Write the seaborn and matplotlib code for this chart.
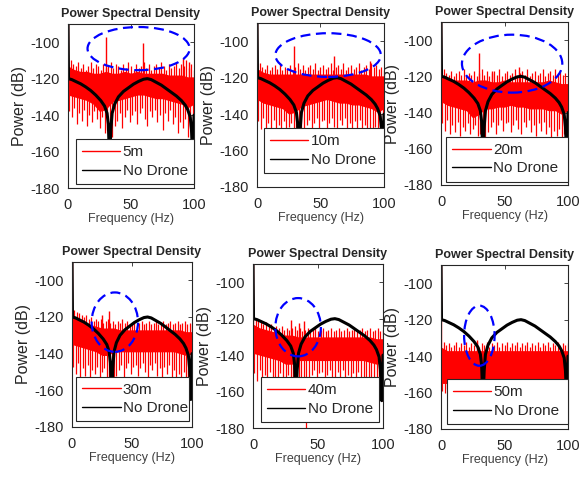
import numpy as np
import matplotlib
matplotlib.use("Agg")
import matplotlib.pyplot as plt
from matplotlib.patches import Ellipse
from matplotlib.lines import Line2D
import seaborn as sns

# -----------------------------
# DATA
# -----------------------------
labels = ["5m", "10m", "20m", "30m", "40m", "50m"]

# No Drone PSD (same in every panel)
nd_freq = [0, 0.4, 3, 6, 10, 14, 18, 22, 26, 29, 31, 32, 33, 34, 35, 37, 40, 44, 48, 52,
           56, 60, 63, 66, 70, 74, 78, 82, 86, 90, 93, 95, 97, 98, 99, 100]
nd_db = [-88, -120, -120.5, -121.5, -122.8, -124.5, -126.5, -129, -132, -135, -139, -145,
         -165, -148, -139, -134, -130, -127, -125, -123, -121.5, -120.3, -120, -120.5,
         -122, -123.5, -125.5, -127.5, -129.5, -132, -134.5, -137, -141, -148, -165, -140]

# drone PSD: dense band (upper / lower edge every 5 Hz)
env_freq = [0, 5, 10, 15, 20, 25, 30, 35, 40, 45, 50, 55, 60, 65, 70, 75, 80, 85, 90, 95, 100]
band_up = [
    [-113, -115, -116, -116, -117, -117, -116, -117, -117, -116, -117, -116, -117, -117, -117, -117, -118, -118, -118, -119, -119],
    [-115, -117, -118, -118, -118, -118, -118, -118, -118, -118, -118, -118, -118, -118, -118, -118, -118, -118, -119, -119, -119],
    [-119, -121, -122, -122, -122, -123, -122, -122, -123, -123, -122, -123, -123, -123, -123, -123, -123, -122, -123, -124, -124],
    [-119, -121, -123, -124, -125, -126, -126, -126, -127, -127, -127, -127, -127, -127, -127, -127, -127, -127, -127, -128, -128],
    [-123, -125, -126, -127, -128, -129, -129, -130, -130, -130, -130, -130, -130, -130, -130, -130, -130, -130, -130, -131, -131],
    [-135, -137, -137, -137, -137, -137, -137, -137, -137, -137, -137, -137, -137, -137, -137, -137, -137, -137, -137, -137, -137],
]
band_lo = [
    [-129, -130, -131, -132, -134, -138, -137, -133, -132, -131, -130, -129, -129, -130, -131, -131, -132, -133, -134, -136, -134],
    [-132, -134, -135, -136, -137, -140, -139, -136, -135, -134, -133, -132, -133, -134, -134, -135, -135, -136, -137, -139, -137],
    [-134, -136, -137, -138, -139, -143, -141, -138, -138, -137, -137, -136, -137, -137, -138, -138, -138, -139, -139, -141, -139],
    [-135, -136, -137, -138, -139, -141, -141, -139, -139, -139, -139, -139, -139, -139, -139, -139, -139, -139, -140, -141, -140],
    [-139, -140, -141, -142, -143, -145, -145, -143, -143, -143, -143, -143, -143, -143, -143, -143, -143, -143, -144, -145, -144],
    [-155, -155, -156, -157, -157, -158, -158, -157, -157, -157, -157, -157, -157, -157, -157, -157, -157, -157, -158, -160, -158],
]

# tall upward spikes (freq, top dB)
spike_f = [
    [0, 29.8, 59.5, 91, 96],
    [0, 29.4, 60.6, 89],
    [0, 30.2, 61.4, 40],
    [0, 30.8, 25],
    [0, 29.2, 35, 39.5],
    [0, 28],
]
spike_db = [
    [-85, -97, -100.5, -108.8, -110.7],
    [-85, -102.5, -108, -111],
    [-85, -107, -114.7, -117],
    [-85, -116.6, -119],
    [-85, -120.6, -122.5, -121.5],
    [-85, -131],
]

# small spikes on top of the band, every 2 Hz (2 .. 100)
fringe_f = list(range(2, 101, 2))
fringe_db = [
    [-110, -112, -113, -111, -114, -112, -115, -113, -111, -114,
     -112, -113, -115, -112, -114, -113, -111, -114, -112, -113,
     -115, -112, -114, -111, -113, -115, -112, -114, -113, -111,
     -114, -112, -115, -113, -112, -114, -111, -113, -115, -112,
     -114, -113, -111, -114, -112, -113, -110, -114, -112, -115],
    [-112, -114, -115, -113, -116, -114, -113, -115, -112, -116,
     -114, -115, -113, -116, -114, -112, -115, -113, -116, -114,
     -113, -115, -112, -116, -114, -113, -115, -114, -112, -116,
     -114, -113, -115, -112, -116, -114, -113, -115, -114, -112,
     -116, -114, -113, -115, -112, -114, -113, -115, -114, -116],
    [-116, -118, -119, -117, -120, -118, -117, -119, -116, -120,
     -118, -119, -117, -120, -118, -116, -119, -117, -120, -118,
     -117, -119, -116, -120, -118, -117, -119, -118, -116, -120,
     -118, -117, -119, -116, -120, -118, -117, -119, -118, -116,
     -120, -118, -117, -119, -116, -118, -117, -119, -118, -120],
    [-116, -117, -118, -119, -120, -119, -121, -120, -122, -121,
     -122, -121, -123, -122, -121, -123, -122, -124, -122, -123,
     -121, -123, -122, -124, -123, -122, -124, -123, -122, -124,
     -123, -122, -124, -123, -122, -124, -123, -122, -124, -123,
     -122, -124, -123, -122, -124, -123, -122, -124, -123, -124],
    [-120, -121, -122, -123, -122, -124, -123, -125, -124, -125,
     -124, -126, -125, -126, -125, -124, -126, -125, -127, -126,
     -125, -127, -126, -125, -127, -126, -125, -127, -126, -125,
     -127, -126, -125, -127, -126, -125, -127, -126, -125, -127,
     -126, -125, -127, -126, -125, -127, -126, -125, -127, -126],
    [-132, -134, -133, -135, -134, -132, -135, -133, -134, -132,
     -135, -133, -134, -132, -135, -133, -134, -132, -135, -133,
     -134, -132, -135, -133, -134, -132, -135, -133, -134, -132,
     -135, -133, -134, -132, -135, -133, -134, -132, -135, -133,
     -134, -132, -135, -133, -134, -132, -135, -133, -134, -133],
]

# downward dips, every 2 Hz (1 .. 99)
dip_f = list(range(1, 100, 2))
dip_db = [
    [-138, -141, -136, -145, -139, -143, -137, -146, -140, -144,
     -138, -142, -147, -141, -150, -148, -160, -152, -146, -143,
     -139, -147, -141, -137, -144, -140, -138, -145, -139, -136,
     -142, -146, -138, -141, -137, -144, -140, -148, -139, -143,
     -137, -145, -141, -150, -144, -147, -142, -152, -146, -150],
    [-144, -148, -142, -150, -145, -149, -143, -151, -146, -148,
     -144, -150, -147, -145, -152, -150, -160, -153, -149, -146,
     -143, -150, -145, -142, -148, -144, -143, -149, -145, -142,
     -147, -150, -143, -146, -142, -149, -145, -151, -144, -148,
     -143, -150, -146, -152, -148, -151, -147, -155, -150, -156],
    [-146, -150, -144, -152, -147, -151, -145, -153, -148, -150,
     -146, -152, -149, -147, -153, -152, -160, -154, -151, -148,
     -145, -152, -147, -144, -150, -146, -145, -151, -147, -144,
     -149, -152, -145, -148, -144, -151, -147, -153, -146, -150,
     -145, -152, -148, -154, -150, -153, -149, -156, -152, -158],
    [-147, -151, -145, -153, -148, -152, -146, -154, -149, -151,
     -147, -153, -150, -148, -154, -153, -158, -155, -152, -149,
     -146, -153, -148, -145, -151, -147, -146, -152, -148, -145,
     -150, -153, -146, -149, -145, -152, -148, -154, -147, -151,
     -146, -153, -149, -155, -151, -154, -150, -157, -153, -158],
    [-150, -154, -148, -156, -151, -155, -149, -157, -152, -154,
     -150, -156, -153, -151, -157, -156, -162, -158, -155, -152,
     -182, -156, -151, -148, -154, -150, -149, -155, -151, -148,
     -153, -156, -149, -152, -148, -155, -151, -157, -150, -154,
     -149, -156, -152, -158, -154, -157, -153, -162, -158, -165],
    [-159, -160, -158, -161, -159, -160, -158, -161, -159, -160,
     -158, -161, -159, -160, -158, -161, -163, -160, -159, -158,
     -160, -159, -161, -158, -160, -159, -161, -158, -160, -159,
     -161, -158, -160, -159, -161, -158, -160, -159, -161, -158,
     -160, -159, -161, -158, -160, -159, -161, -160, -165, -162],
]

# blue dashed ellipses (centre, width, height in data units)
ell_cx = [56, 56, 56, 35.7, 34.7, 30.2]
ell_cy = [-103.5, -107.6, -113, -122.8, -124.7, -128.8]
ell_w = [81, 83, 79, 38.6, 35, 24]
ell_h = [23.7, 24, 32, 32.4, 32, 33]

# -----------------------------
# STYLE
# -----------------------------
sns.set_style("white")
plt.rcParams['font.family'] = ['Liberation Sans', 'DejaVu Sans']
plt.rcParams['axes.unicode_minus'] = False
plt.rcParams['axes.edgecolor'] = '#262626'
plt.rcParams['axes.linewidth'] = 0.8

fig = plt.figure(figsize=(5.88, 4.78), dpi=100)
W, H = 588, 478

# axes boxes in pixels (left, top, right, bottom)
boxes = [(68, 24, 194, 188), (257, 23, 384, 187), (441, 22, 568, 185),
         (72, 262, 192, 427), (253, 264, 383, 428), (441, 265, 568, 429)]
# legend box in axes fraction (x0, y_top, width)
leg_box = [(0.063, 0.297, 0.937), (0.055, 0.358, 0.945), (0.042, 0.296, 0.958),
           (0.036, 0.305, 0.939), (0.062, 0.309, 0.908), (0.047, 0.303, 0.953)]

for i in range(6):
    l, t, r, b = boxes[i]
    ax = fig.add_axes([l / W, 1 - b / H, (r - l) / W, (b - t) / H])

    up = np.array(band_up[i])
    lo = np.array(band_lo[i])
    mid = (up + lo) / 2

    # drone PSD
    ax.fill_between(env_freq, lo, up, color='red', lw=0)
    ax.vlines(fringe_f, np.interp(fringe_f, env_freq, mid), fringe_db[i], color='red', lw=0.9)
    ax.vlines(dip_f, dip_db[i], np.interp(dip_f, env_freq, mid), color='red', lw=0.9)
    ax.vlines(spike_f[i], np.interp(spike_f[i], env_freq, mid), spike_db[i], color='red', lw=1.0)

    # no drone PSD
    sns.lineplot(x=nd_freq, y=nd_db, ax=ax, color='black', lw=2.2, sort=False,
                 legend=False, estimator=None)

    ax.add_patch(Ellipse((ell_cx[i], ell_cy[i]), ell_w[i], ell_h[i], fill=False,
                         edgecolor='#0000ff', lw=1.6, linestyle=(0, (4.5, 2.5)),
                         zorder=4))

    ax.set_xlim(0, 100)
    ax.set_ylim(-180, -90)
    ax.set_xticks([0, 50, 100])
    ax.set_yticks([-180, -160, -140, -120, -100])
    ax.tick_params(direction='in', length=3, width=0.6, top=True, right=True,
                   labelsize=10.5, colors='#262626')
    ax.tick_params(axis='y', pad=6)
    ax.tick_params(axis='x', pad=7)
    for s in ax.spines.values():
        s.set_visible(True)
        s.set_color('#262626')

    ax.set_title("Power Spectral Density", fontsize=9, fontweight='bold', pad=5)
    ax.set_ylabel("Power (dB)", fontsize=11.5, labelpad=2)
    ax.set_xlabel("Frequency (Hz)", fontsize=9, color='#404040', labelpad=1)

    x0, y1, w = leg_box[i]
    handles = [Line2D([], [], color='red', lw=1), Line2D([], [], color='black', lw=1)]
    leg = ax.legend(handles, [labels[i], "No Drone"], loc='upper left',
                    bbox_to_anchor=(x0, y1 - 0.3, w, 0.3), mode='expand',
                    fontsize=11, frameon=True, fancybox=False, framealpha=1,
                    edgecolor='#262626', borderpad=0.4, handlelength=2.5,
                    handletextpad=0.15, labelspacing=0.3, borderaxespad=0)
    leg.get_frame().set_linewidth(0.8)
    leg.set_zorder(6)

plt.savefig("out.png", dpi=100)
